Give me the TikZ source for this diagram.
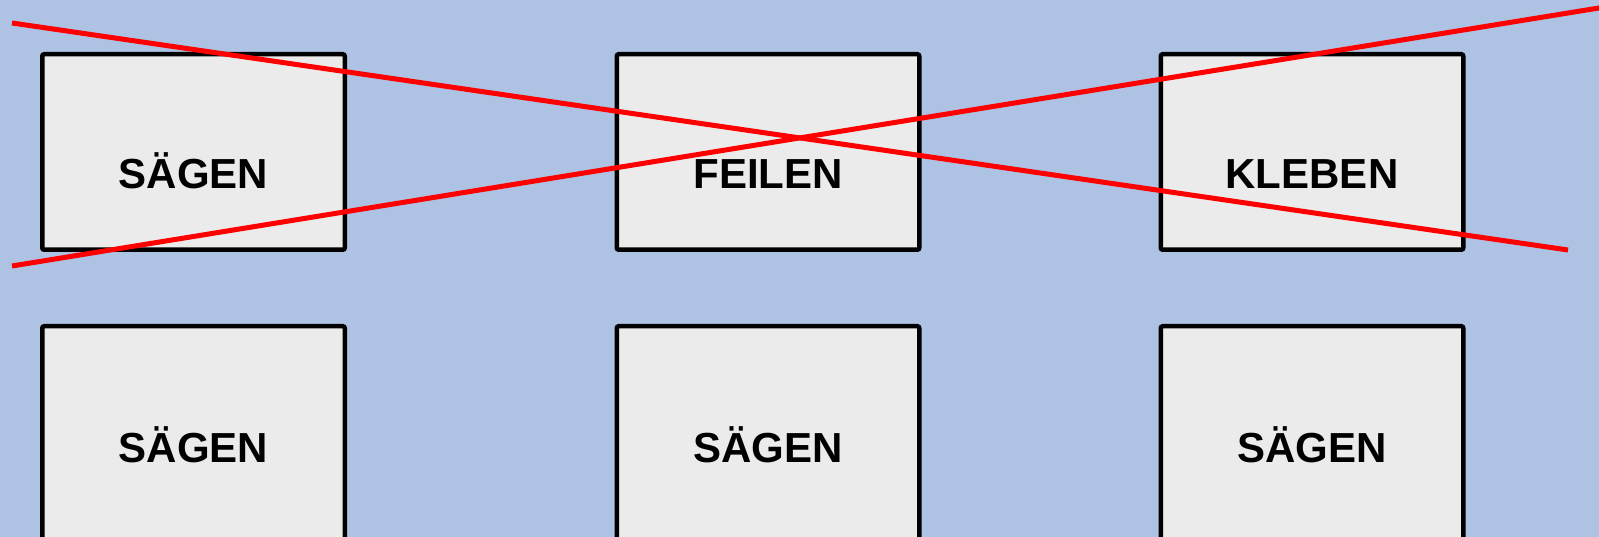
\documentclass[tikz,border=0pt]{standalone}
\usepackage{fontspec}
\setmainfont{Liberation Sans}
\usepackage{tikz}
\definecolor{bg}{RGB}{174,195,227}
\definecolor{boxfill}{RGB}{235,235,235}
\tikzstyle{box}=[shape=rectangle,draw=black,fill=boxfill,line width=4.5pt,rounded corners=2pt,minimum width=302.5pt,minimum height=195.5pt,inner sep=0pt]
\tikzstyle{tall}=[minimum height=260pt]
\tikzstyle{lbl}=[anchor=base,inner sep=0pt,font=\fontsize{42}{50}\selectfont\bfseries]
\tikzstyle{cross}=[draw=red,line width=5pt]

\begin{document}
\begin{tikzpicture}[x=1pt,y=-1pt]
        \fill[bg] (0,0) rectangle (1599,537);
        \useasboundingbox (0,0) rectangle (1599,537);
        \clip (0,0) rectangle (1599,537);
        % top row
        \node[box] (A) at (193.5, 152) {};
        \node[box] (B) at (768, 152) {};
        \node[box] (C) at (1312, 152) {};
        % bottom row
        \node[box, tall, anchor=north] (D) at (193.5, 324) {};
        \node[box, tall, anchor=north] (E) at (768, 324) {};
        \node[box, tall, anchor=north] (F) at (1312, 324) {};
        \node[lbl] (a) at ([yshift=-137pt]A.north) {SÄGEN};
        \node[lbl] (b) at ([yshift=-137pt]B.north) {FEILEN};
        \node[lbl] (c) at ([yshift=-137pt]C.north) {KLEBEN};
        \node[lbl] (d) at ([yshift=-138pt]D.north) {SÄGEN};
        \node[lbl] (e) at ([yshift=-138pt]E.north) {SÄGEN};
        \node[lbl] (f) at ([yshift=-138pt]F.north) {SÄGEN};
        % the cross
        \coordinate (p1) at (12, 23);
        \coordinate (p2) at (1568, 250);
        \coordinate (q1) at (12, 266);
        \coordinate (q2) at (1605, 7);
        \draw[cross] (p1) -- (p2);
        \draw[cross] (q1) -- (q2);
    \end{tikzpicture}
\end{document}
